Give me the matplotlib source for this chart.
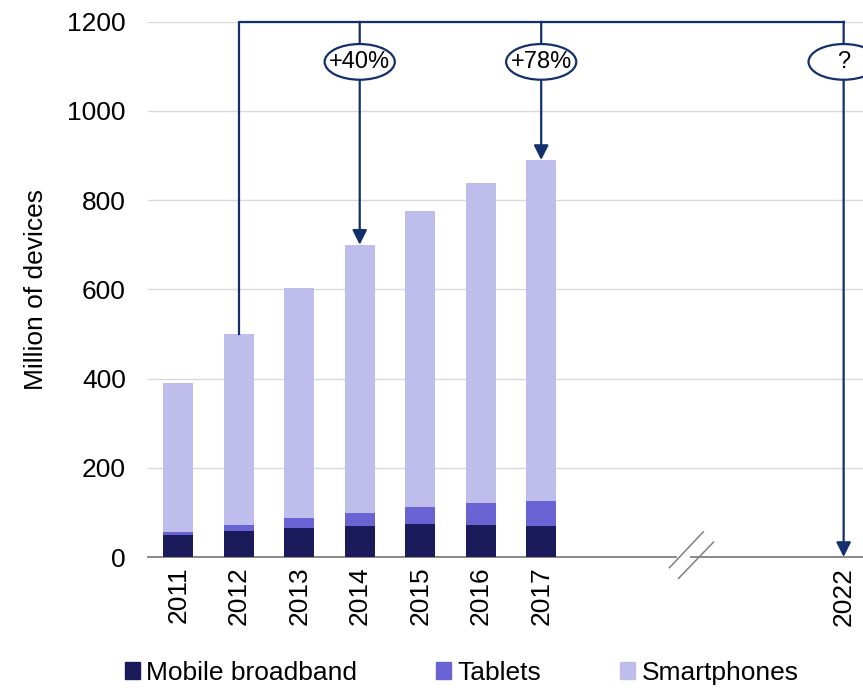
import matplotlib.pyplot as plt
from matplotlib.patches import Ellipse, Patch

plt.rcParams['font.family'] = ['Liberation Sans', 'DejaVu Sans']

years = [2011, 2012, 2013, 2014, 2015, 2016, 2017]
mobile_broadband = [50, 58, 65, 70, 74, 72, 70]
tablets = [5, 13, 22, 29, 37, 48, 56]
smartphones = [335, 429, 516, 601, 665, 719, 764]
tick_years = years + [2022]
growth_labels = ['+40%', '+78%', '?']
growth_x = [2014, 2017, 2022]
growth_target = [700, 890, 0]

c_mb = '#1b1a5a'
c_tab = '#6a63d4'
c_sp = '#bfbdec'
c_line = '#13306d'

fig = plt.figure(figsize=(8.63, 6.88), dpi=100)
ax = fig.add_axes([0.1715, 0.1904, 0.8285, 0.778])

ax.bar(years, mobile_broadband, width=0.5, color=c_mb, zorder=3)
bottom2 = mobile_broadband
ax.bar(years, tablets, width=0.5, bottom=bottom2, color=c_tab, zorder=3)
bottom3 = [a + b for a, b in zip(mobile_broadband, tablets)]
ax.bar(years, smartphones, width=0.5, bottom=bottom3, color=c_sp, zorder=3)

ax.set_xlim(2010.5, 2022.32)
ax.set_ylim(0, 1200)
ax.set_yticks(range(0, 1201, 200))
ax.set_xticks(tick_years)
ax.set_xticklabels([str(y) for y in tick_years], rotation=90, fontsize=19)
ax.tick_params(axis='y', labelsize=19, length=0, pad=16)
ax.tick_params(axis='x', length=0, pad=7)
ax.grid(axis='y', color='#d9d9d9', lw=1, zorder=0)
for s in ['top', 'right', 'left']:
    ax.spines[s].set_visible(False)
ax.spines['bottom'].set_color('#808080')
ax.spines['bottom'].set_linewidth(1.3)
ax.set_ylabel('Million of devices', fontsize=19, labelpad=14)

# connector from 2012 bar
total_2012 = bottom3[1] + smartphones[1]
ax.plot([2012, 2012, 2022], [total_2012, 1200, 1200], color=c_line, lw=1.6,
        clip_on=False, zorder=4)
for x, y, lab in zip(growth_x, growth_target, growth_labels):
    ax.annotate('', xy=(x, y), xytext=(x, 1200),
                arrowprops=dict(arrowstyle='-|>', color=c_line, lw=1.6,
                                mutation_scale=22, shrinkA=0, shrinkB=0),
                zorder=4, annotation_clip=False)
    ax.add_patch(Ellipse((x, 1110), 1.16, 80, facecolor='white',
                         edgecolor=c_line, lw=1.6, zorder=5))
    ax.text(x, 1110, lab, ha='center', va='center', fontsize=17, zorder=6)

# axis break
xt = ax.get_xaxis_transform()
ax.plot([2019.28, 2019.42], [0, 0], transform=xt, color='white', lw=3,
        clip_on=False, zorder=6)
ax.plot([2019.12, 2019.68], [-0.02, 0.047], transform=xt,
        color='#808080', lw=1.1, clip_on=False, zorder=7)
ax.plot([2019.27, 2019.85], [-0.04, 0.028], transform=xt,
        color='#808080', lw=1.1, clip_on=False, zorder=7)

handles = [Patch(color=c_mb, label='Mobile broadband'),
           Patch(color=c_tab, label='Tablets'),
           Patch(color=c_sp, label='Smartphones')]
fig.legend(handles=handles, loc='lower center', ncol=3, frameon=False,
           fontsize=19, handlelength=0.55, handleheight=0.65, handletextpad=0.25,
           columnspacing=3.0, bbox_to_anchor=(0.535, -0.03))

fig.savefig('out.png', dpi=100)
